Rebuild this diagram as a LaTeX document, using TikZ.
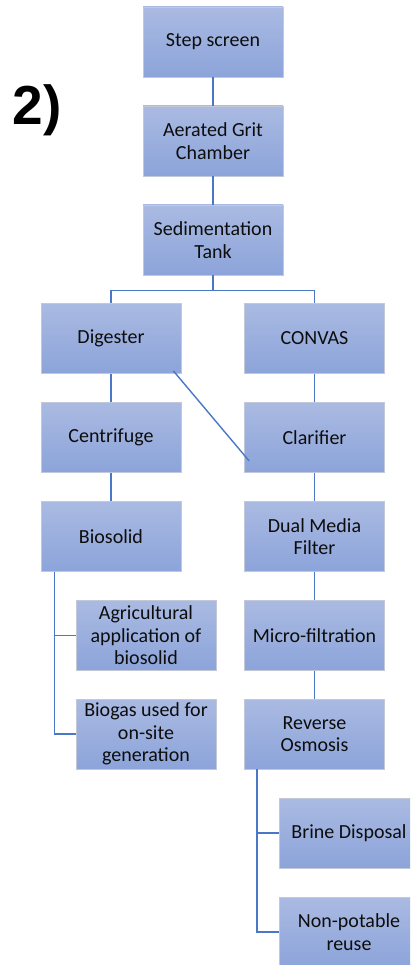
\documentclass[tikz,border=0pt]{standalone}
\usepackage{fontspec}
\setmainfont{Carlito}
\newfontfamily\labelfont{Liberation Sans}
\usepackage[HTML]{xcolor}
\usepackage{tikz}
\usetikzlibrary{positioning}
\definecolor{boxtop}{HTML}{AABAE2}
\definecolor{boxbot}{HTML}{8CA4DA}
\definecolor{boxline}{HTML}{C2C8D8}
\definecolor{linkblue}{HTML}{4A78C6}

\begin{document}
\begin{tikzpicture}[x=1pt, y=-1pt,
  box/.style={rectangle, top color=boxtop, bottom color=boxbot, draw=boxline, line width=0.8pt,
    minimum width=140pt, minimum height=70pt, inner sep=2pt, align=center,
    font=\fontsize{20}{22.5}\selectfont, text=black!95},
  link/.style={draw=linkblue, line width=1.4pt}]
\useasboundingbox (0,0) rectangle (410,965);
\clip (0,0) rectangle (410,965);

% Label
\node (lbl) at (37,110) {\labelfont\bfseries\fontsize{55}{60}\selectfont 2)};

% Main trunk
\node[box] (step) at (213,42) {Step screen};
\node[box] (grit) at (213,141) {Aerated Grit\\Chamber};
\node[box] (sed) at (213,240) {Sedimentation\\Tank};

% Left: sludge line
\node[box] (dig) at (111,338.5) {Digester};
\node[box] (cent) at (111,437.5) {Centrifuge};
\node[box] (bio) at (111,536.5) {Biosolid};
\node[box] (agri) at (146,635.5) {Agricultural\\application of\\biosolid};
\node[box] (gas) at (146,734) {Biogas used for\\on-site\\generation};

% Right: water line
\node[box] (conv) at (314.5,338.5) {CONVAS};
\node[box] (clar) at (314.5,437.5) {Clarifier};
\node[box] (dmf) at (314.5,536.5) {Dual Media\\Filter};
\node[box] (mf) at (314.5,635.5) {Micro-filtration};
\node[box] (ro) at (314.5,734) {Reverse\\Osmosis};
\node[box] (brine) at (349,833) {Brine Disposal};
\node[box] (reuse) at (349,932) {Non-potable\\reuse};

% Connectors
\draw[link] (step.south) -- (grit.north);
\draw[link] (grit.south) -- (sed.north);
\draw[link] (sed.south) -- ++(0,15) -| (dig.north);
\draw[link] (sed.south) -- ++(0,15) -| (conv.north);
\draw[link] (dig.south) -- (cent.north);
\draw[link] (cent.south) -- (bio.north);
\draw[link] (conv.south) -- (clar.north);
\draw[link] (clar.south) -- (dmf.north);
\draw[link] (dmf.south) -- (mf.north);
\draw[link] (mf.south) -- (ro.north);
\draw[link] ([xshift=-8pt,yshift=3pt]dig.south east) -- ([xshift=5pt,yshift=12pt]clar.south west);
\draw[link] ([xshift=14pt]bio.south west) |- (agri.west);
\draw[link] ([xshift=14pt]bio.south west) |- (gas.west);
\draw[link] ([xshift=13pt]ro.south west) |- (brine.west);
\draw[link] ([xshift=13pt]ro.south west) |- (reuse.west);
\end{tikzpicture}
\end{document}
